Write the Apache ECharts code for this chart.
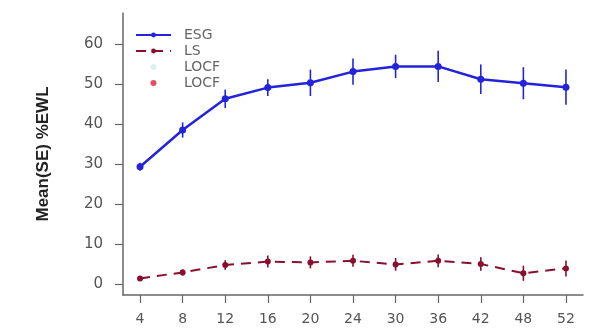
<!DOCTYPE html>
<html>
<head>
<meta charset="utf-8">
<script src="https://cdn.jsdelivr.net/npm/echarts@6/dist/echarts.min.js"></script>
<style>html,body{margin:0;padding:0;background:#fff;}#c{width:595px;height:331px;}</style>
</head>
<body>
<div id="c"></div>
<script>
var weeks = ['4','8','12','16','20','24','30','36','42','48','52'];
var esgMean = [29.3, 38.5, 46.3, 49.1, 50.3, 53.1, 54.4, 54.4, 51.2, 50.2, 49.2];
var esgSE   = [1.0, 1.9, 2.3, 2.1, 3.3, 3.3, 2.9, 3.9, 3.7, 4.0, 4.4];
var lsMean  = [1.4, 2.9, 4.75, 5.6, 5.4, 5.8, 4.9, 5.8, 5.0, 2.7, 3.9];
var lsSE    = [0.5, 0.8, 1.2, 1.5, 1.5, 1.5, 1.6, 1.6, 1.7, 1.9, 2.0];
var yTicks  = [0, 10, 20, 30, 40, 50, 60];

var ESG_COLOR = '#2323dc';
var LS_COLOR = '#8a0f2e';

function pts(arr){ return arr.map(function(v,i){ return [i, v]; }); }
function errData(mean, se){ return mean.map(function(v,i){ return [i, v - se[i], v + se[i]]; }); }
function errSeries(name, mean, se, color){
  return {
    name: name + ' SE', type: 'custom', silent: true, z: 3,
    data: errData(mean, se),
    renderItem: function(params, api){
      var lo = api.coord([api.value(0), api.value(1)]);
      var hi = api.coord([api.value(0), api.value(2)]);
      return { type: 'line', shape: {x1: lo[0], y1: lo[1], x2: hi[0], y2: hi[1]},
               style: {stroke: color, lineWidth: 1.6} };
    }
  };
}

var chart = echarts.init(document.getElementById('c'), null, {renderer: 'canvas'});
chart.setOption({
  animation: false,
  backgroundColor: '#ffffff',
  grid: {left: 123, right: 12, top: 13, bottom: 36},
  legend: {
    left: 135, top: 28, orient: 'vertical', itemGap: 2, padding: 0,
    itemWidth: 35, itemHeight: 6,
    textStyle: {fontFamily: 'DejaVu Sans', fontSize: 14, lineHeight: 14, color: '#666', padding: [0,0,0,8]},
    formatter: function(n){ return n.trim(); },
    data: [
      {name: 'ESG'},
      {name: 'LS'},
      {name: 'LOCF', icon: 'circle', itemStyle: {color: '#d6ece8'}},
      {name: 'LOCF ', icon: 'circle', itemStyle: {color: '#e0203a'}}
    ]
  },
  xAxis: {
    type: 'value', min: -0.4, max: 10.4,
    splitLine: {show: false},
    axisLine: {show: true, onZero: false, lineStyle: {color: '#666', width: 1.5}},
    axisTick: {show: true, customValues: weeks.map(function(w,i){return i;}), length: 8, lineStyle: {color: '#666', width: 1.2}},
    axisLabel: {customValues: weeks.map(function(w,i){return i;}), margin: 17,
      formatter: function(v){ return weeks[Math.round(v)]; },
      fontFamily: 'DejaVu Sans', fontSize: 14, color: '#555'}
  },
  yAxis: {
    type: 'value', min: -2.75, max: 67.75,
    name: 'Mean(SE) %EWL', nameLocation: 'middle', nameGap: 71, nameRotate: 90,
    nameTextStyle: {fontFamily: 'Liberation Sans', fontWeight: 'bold', fontSize: 17, color: '#222'},
    splitLine: {show: false},
    axisLine: {show: true, onZero: false, lineStyle: {color: '#666', width: 1.5}},
    axisTick: {show: true, customValues: yTicks, length: 8, lineStyle: {color: '#666', width: 1.2}},
    axisLabel: {customValues: yTicks, margin: 20,
      fontFamily: 'DejaVu Sans', fontSize: 15, color: '#555'}
  },
  series: [
    errSeries('ESG', esgMean, esgSE, ESG_COLOR),
    errSeries('LS', lsMean, lsSE, LS_COLOR),
    {
      name: 'ESG', type: 'line', data: pts(esgMean), z: 4,
      symbol: 'circle', symbolSize: 7,
      lineStyle: {color: ESG_COLOR, width: 2.5},
      itemStyle: {color: ESG_COLOR}
    },
    {
      name: 'LS', type: 'line', data: pts(lsMean), z: 4,
      symbol: 'circle', symbolSize: 6,
      lineStyle: {color: LS_COLOR, width: 2, type: [10, 7]},
      itemStyle: {color: LS_COLOR}
    },
    {name: 'LOCF', type: 'scatter', data: [], symbol: 'circle', itemStyle: {color: '#d6ece8'}},
    {name: 'LOCF ', type: 'scatter', data: [], symbol: 'circle', itemStyle: {color: '#e0203a'}}
  ]
});
</script>
</body>
</html>
